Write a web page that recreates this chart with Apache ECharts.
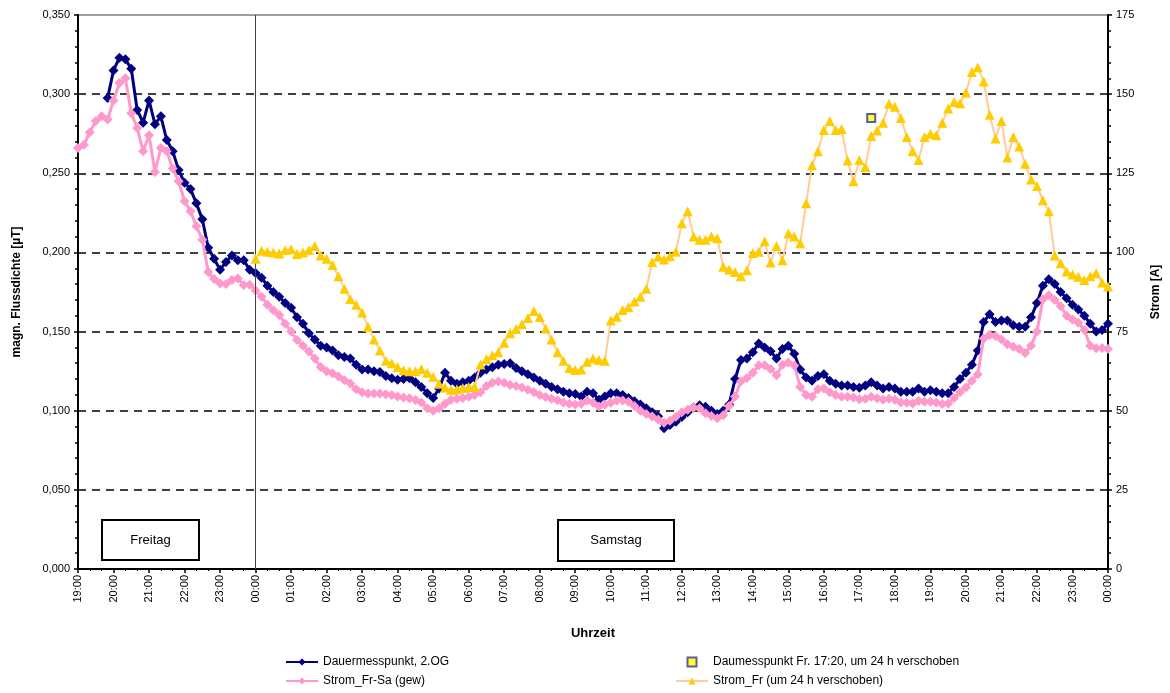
<!DOCTYPE html>
<html>
<head>
<meta charset="utf-8">
<script src="https://cdn.jsdelivr.net/npm/echarts@6/dist/echarts.min.js"></script>
<style>html,body{margin:0;padding:0;background:#fff}#c{width:1170px;height:693px}</style>
</head>
<body>
<div id="c"></div>
<script>
// time axis: hours after Friday 19:00; samples every 10 minutes
const STEP_MIN = 10;
const xTickStartHour = 19;

// Dauermesspunkt, 2.OG [µT], starting Fr 19:50
const navyStartMin = 50;
const navyValues = [
  0.2975,
  0.315,0.323,0.322,0.316,0.290,0.282,
  0.296,0.281,0.286,0.271,0.264,0.252,
  0.244,0.240,0.231,0.221,0.203,0.196,
  0.189,0.194,0.198,0.195,0.195,0.189,
  0.187,0.184,0.179,0.175,0.172,0.168,
  0.165,0.159,0.155,0.149,0.145,0.141,
  0.140,0.138,0.135,0.134,0.133,0.129,
  0.126,0.126,0.125,0.1245,0.122,0.1205,
  0.1195,0.120,0.1205,0.118,0.115,0.111,
  0.108,0.114,0.124,0.119,0.117,0.118,
  0.119,0.121,0.124,0.126,0.1275,0.129,
  0.1295,0.130,0.127,0.125,0.123,0.121,
  0.119,0.117,0.115,0.1135,0.112,0.111,
  0.1105,0.109,0.112,0.111,0.107,0.109,
  0.111,0.111,0.110,0.108,0.106,0.104,
  0.1015,0.099,0.0965,0.089,0.091,0.093,
  0.096,0.099,0.102,0.1035,0.1025,0.100,
  0.098,0.100,0.104,0.120,0.132,0.133,
  0.137,0.1425,0.140,0.1375,0.133,0.139,
  0.141,0.136,0.126,0.121,0.119,0.122,
  0.123,0.119,0.117,0.116,0.116,0.115,
  0.1145,0.116,0.118,0.116,0.114,0.115,
  0.114,0.112,0.112,0.112,0.114,0.112,
  0.113,0.112,0.111,0.111,0.115,0.120,
  0.124,0.129,0.138,0.156,0.161,0.156,
  0.157,0.157,0.154,0.153,0.153,0.159,
  0.168,0.179,0.183,0.180,0.175,0.171,
  0.167,0.164,0.160,0.155,0.150,0.151,
  0.155
];

// Strom_Fr-Sa (gew) [A], starting Fr 19:00
const pinkStartMin = 0;
const pinkValues = [
  133,134,138,141.5,143,142,
  148,153.5,155,144,139.3,132,
  137,125.4,133,132,126.5,122.5,
  116.2,113,108.3,104,93.8,91.6,
  90.2,90,91.3,91.8,89.7,89.8,
  88,86,83.5,81.7,80.2,77.5,
  75,72.3,70.5,68.7,66.5,63.8,
  62.5,61.8,60.8,59.6,58.6,56.8,
  55.8,55.4,55.4,55.4,55.2,55,
  54.5,54.2,53.9,53.4,52.6,50.8,
  50,50.8,52.2,53.5,53.8,54,
  54.4,55,55.8,57.8,58.8,59.2,
  58.8,58.1,57.8,57.3,56.6,55.8,
  55,54.3,53.8,53.3,52.6,52.2,
  52,52.2,53.2,52.5,51.3,51.9,
  52.5,53.2,53.2,52.8,51.5,50,
  49,48.2,47.2,46.2,46.8,48.1,
  49.5,50.3,51,50.8,49.2,48.3,
  47.6,48.6,51.5,54.5,59.3,60.3,
  62,64.4,64.4,63.2,61.2,64.5,
  65.2,64.3,57.5,55,54.4,56.8,
  57,55.8,55,54.4,54.4,54.2,
  53.6,53.8,54.4,53.9,53.5,53.8,
  53.5,52.6,52.5,52.3,53.1,52.8,
  52.8,52.6,52.1,52.3,54,55.8,
  57.3,59.5,61.5,72.8,73.9,73.6,
  72.5,71,70.2,69.5,68.2,70.5,
  75,85.2,86.5,85,83,80,
  78.8,77.8,75.5,70.5,69.7,69.8,
  69.5
];

// Strom_Fr (um 24 h verschoben) [A], starting Sa 00:00
const yellowStartMin = 300;
const yellowValues = [
  98,100.5,100.2,100,99.7,100.8,
  101,99.5,100,100.8,102,99,
  98,96,92.5,88.5,85.3,83.5,
  81,76.5,72.5,69,65.8,65,
  63.8,62.8,62.5,62.5,63.2,62,
  60.7,58.5,57.3,56.6,56.8,57.2,
  57.5,57.6,64.6,66.3,67.5,68.5,
  71.5,74.5,75.8,77.3,79.3,81.5,
  79.6,76,72.5,68.5,65.8,63.5,
  62.9,63,65.5,66.5,66,65.8,
  78.5,79.7,81.8,82.7,84.5,86,
  88.5,97,98.6,97.8,98.8,100.2,
  109.2,113,105,104,104,105,
  104.5,95.5,94.6,93.8,92.5,94.4,
  99.8,100.2,103.5,96.8,102,97.5,
  106,105,102.9,115.5,127.5,132,
  138.7,141.5,138.7,139,129,122.5,
  129.2,127,136.8,138.5,141,147,
  146,142.5,136.5,132,129.2,136.5,
  137.5,137,141,145.5,147.5,147.1,
  150.5,157,158.5,154,143.5,136,
  141.5,130,136.5,133.5,128,123,
  121,116.5,113,99,96.6,94,
  93,92.3,91.3,92.5,93.4,90.5,
  89.2
];

// Daumesspunkt Fr. 17:20 (shifted 24 h -> Sa 17:20) [µT]
const pointTimeMin = 22 * 60 + 20;
const pointValue = 0.285;

const seriesNames = [
  'Dauermesspunkt, 2.OG',
  'Strom_Fr-Sa (gew)',
  'Daumesspunkt Fr. 17:20, um 24 h verschoben',
  'Strom_Fr (um 24 h verschoben)'
];
const dayLabels = ['Freitag', 'Samstag'];
const midnightHour = 5;

function toPairs(startMin, vals) {
  return vals.map((v, i) => [(startMin + i * STEP_MIN) / 60, v]);
}
const FONT = 'Liberation Sans, Arial, sans-serif';
const pad = n => (n < 10 ? '0' : '') + n;

const chart = echarts.init(document.getElementById('c'));
chart.setOption({
  animation: false,
  backgroundColor: '#fff',
  textStyle: { fontFamily: FONT },
  grid: { left: 78, right: 60, top: 15, bottom: 124, show: true, borderColor: '#808080', borderWidth: 1.5 },
  xAxis: {
    type: 'value', min: 0, max: 29, interval: 1,
    name: 'Uhrzeit', nameLocation: 'middle', nameGap: 58,
    nameTextStyle: { fontWeight: 'bold', fontSize: 13, color: '#000', fontFamily: FONT },
    axisLine: { lineStyle: { color: '#000', width: 2 } },
    axisTick: { length: 4, lineStyle: { color: '#000', width: 1.5 } },
    minorTick: { show: true, splitNumber: 3, length: 2, lineStyle: { color: '#000', width: 1 } },
    splitLine: { show: false },
    axisLabel: {
      rotate: 90, fontSize: 11, color: '#000', margin: 6, fontFamily: FONT,
      formatter: v => pad((xTickStartHour + v) % 24) + ':00'
    }
  },
  yAxis: [
    {
      type: 'value', min: 0, max: 0.35, interval: 0.05, position: 'left',
      name: 'magn. Flussdichte [µT]', nameLocation: 'middle', nameGap: 55, nameRotate: 90,
      nameTextStyle: { fontWeight: 'bold', fontSize: 12, color: '#000', fontFamily: FONT },
      axisLine: { show: true, lineStyle: { color: '#000', width: 2 } },
      axisTick: { show: true, length: 4, lineStyle: { color: '#000', width: 1.5 } },
      minorTick: { show: true, splitNumber: 5, length: 3, lineStyle: { color: '#000', width: 1.5 } },
      axisLabel: { fontSize: 11, color: '#000', fontFamily: FONT, formatter: v => v.toFixed(3).replace('.', ',') },
      splitLine: { show: true, showMinLine: false, showMaxLine: false, lineStyle: { color: '#000', width: 1.5, type: [8, 6] } }
    },
    {
      type: 'value', min: 0, max: 175, interval: 25, position: 'right',
      name: 'Strom [A]', nameLocation: 'middle', nameGap: 42, nameRotate: 90,
      nameTextStyle: { fontWeight: 'bold', fontSize: 12, color: '#000', fontFamily: FONT },
      axisLine: { show: true, lineStyle: { color: '#000', width: 2 } },
      axisTick: { show: true, length: 4, lineStyle: { color: '#000', width: 1.5 } },
      minorTick: { show: true, splitNumber: 5, length: 3, lineStyle: { color: '#000', width: 1.5 } },
      axisLabel: { fontSize: 11, color: '#000', fontFamily: FONT },
      splitLine: { show: false }
    }
  ],
  legend: [
    {
      left: 280, top: 651, orient: 'vertical', itemGap: 7, itemWidth: 32, itemHeight: 9,
      textStyle: { fontSize: 12, color: '#000', fontFamily: FONT },
      lineStyle: { width: 2 },
      data: [seriesNames[0], seriesNames[1]]
    },
    {
      left: 670, top: 651, orient: 'vertical', itemGap: 7, itemWidth: 32, itemHeight: 9,
      textStyle: { fontSize: 12, color: '#000', fontFamily: FONT },
      lineStyle: { width: 2 },
      data: [seriesNames[2], seriesNames[3]]
    }
  ],
  series: [
    {
      name: seriesNames[0], type: 'line', yAxisIndex: 0,
      data: toPairs(navyStartMin, navyValues),
      showSymbol: true, showAllSymbol: true, symbol: 'diamond', symbolSize: 10,
      lineStyle: { color: '#000080', width: 3 }, itemStyle: { color: '#000080' },
      z: 3,
      markLine: {
        silent: true, symbol: 'none', label: { show: false },
        lineStyle: { color: '#444', width: 1, type: 'solid' },
        data: [{ xAxis: midnightHour }]
      }
    },
    {
      name: seriesNames[1], type: 'line', yAxisIndex: 1,
      data: toPairs(pinkStartMin, pinkValues),
      showSymbol: true, showAllSymbol: true, symbol: 'diamond', symbolSize: 10,
      lineStyle: { color: '#FF99CC', width: 3 }, itemStyle: { color: '#FF99CC' },
      z: 4
    },
    {
      name: seriesNames[3], type: 'line', yAxisIndex: 1,
      data: toPairs(yellowStartMin, yellowValues),
      showSymbol: true, showAllSymbol: true, symbol: 'triangle', symbolSize: 10,
      lineStyle: { color: '#FFCC99', width: 2 }, itemStyle: { color: '#FFCC00' },
      z: 5
    },
    {
      name: seriesNames[2], type: 'scatter', yAxisIndex: 0,
      data: [[pointTimeMin / 60, pointValue]],
      symbol: 'path://M0 0H10V10H0Z', symbolKeepAspect: true, symbolSize: 8,
      itemStyle: { color: '#FFFF00', borderColor: '#333399', borderWidth: 2 },
      z: 6
    }
  ],
  graphic: [
    {
      type: 'group', left: 101, top: 519,
      children: [
        { type: 'rect', shape: { x: 0, y: 0, width: 97, height: 40 }, style: { fill: '#fff', stroke: '#000', lineWidth: 2 } },
        { type: 'text', x: 48.5, y: 20, style: { text: dayLabels[0], fill: '#000', font: '13px Liberation Sans, Arial, sans-serif', textAlign: 'center', textVerticalAlign: 'middle' } }
      ]
    },
    {
      type: 'group', left: 557, top: 519,
      children: [
        { type: 'rect', shape: { x: 0, y: 0, width: 116, height: 41 }, style: { fill: '#fff', stroke: '#000', lineWidth: 2 } },
        { type: 'text', x: 58, y: 20.5, style: { text: dayLabels[1], fill: '#000', font: '13px Liberation Sans, Arial, sans-serif', textAlign: 'center', textVerticalAlign: 'middle' } }
      ]
    }
  ]
});
</script>
</body>
</html>
